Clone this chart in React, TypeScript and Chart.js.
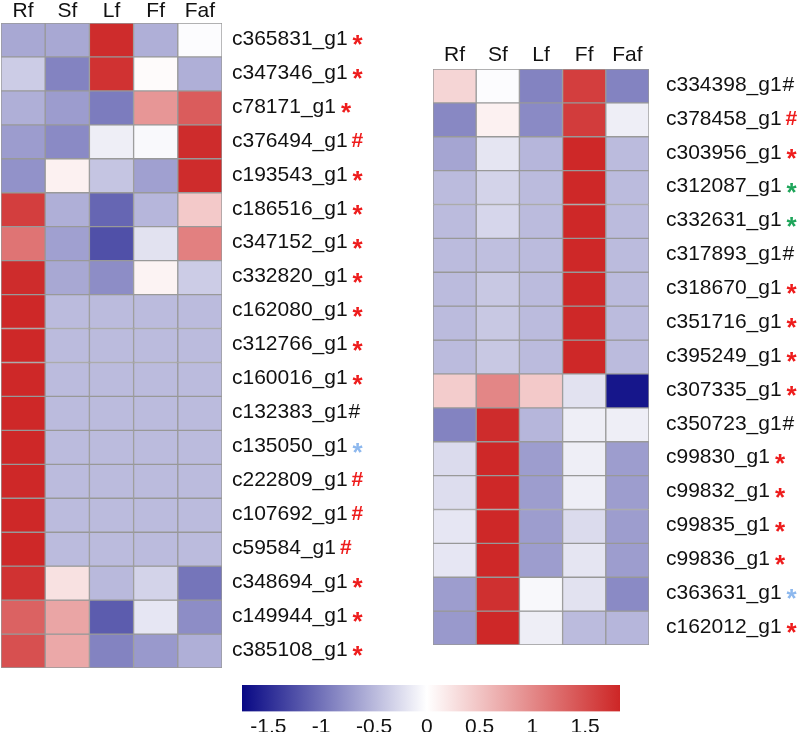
import React, { useEffect, useRef } from 'react';
import { Chart, registerables } from 'chart.js';
Chart.register(...registerables);

const columns = ['Rf', 'Sf', 'Lf', 'Ff', 'Faf'];

const leftGenes = [
  'c365831_g1', 'c347346_g1', 'c78171_g1', 'c376494_g1', 'c193543_g1', 'c186516_g1',
  'c347152_g1', 'c332820_g1', 'c162080_g1', 'c312766_g1', 'c160016_g1', 'c132383_g1',
  'c135050_g1', 'c222809_g1', 'c107692_g1', 'c59584_g1', 'c348694_g1', 'c149944_g1', 'c385108_g1',
];
// marker symbol + colour key (r red, k black, g green, b light blue)
const leftMarks = [
  '*r', '*r', '*r', '#r', '*r', '*r', '*r', '*r', '*r', '*r', '*r', '#k',
  '*b', '#r', '#r', '#r', '*r', '*r', '*r',
];
const leftValues = [
  [-0.6, -0.6, 1.75, -0.55, -0.02],
  [-0.35, -0.85, 1.7, 0.03, -0.55],
  [-0.55, -0.68, -0.9, 0.87, 1.35],
  [-0.68, -0.8, -0.12, -0.04, 1.75],
  [-0.75, 0.12, -0.4, -0.65, 1.75],
  [1.6, -0.55, -1.05, -0.5, 0.45],
  [1.15, -0.65, -1.2, -0.2, 1.05],
  [1.75, -0.6, -0.78, 0.1, -0.35],
  [1.78, -0.47, -0.47, -0.47, -0.47],
  [1.78, -0.47, -0.47, -0.47, -0.47],
  [1.78, -0.47, -0.47, -0.47, -0.47],
  [1.78, -0.47, -0.47, -0.47, -0.47],
  [1.78, -0.47, -0.47, -0.47, -0.47],
  [1.78, -0.47, -0.47, -0.47, -0.47],
  [1.78, -0.47, -0.47, -0.47, -0.47],
  [1.78, -0.47, -0.47, -0.47, -0.47],
  [1.7, 0.25, -0.48, -0.3, -0.95],
  [1.3, 0.75, -1.12, -0.17, -0.78],
  [1.45, 0.72, -0.85, -0.7, -0.55],
];

const rightGenes = [
  'c334398_g1', 'c378458_g1', 'c303956_g1', 'c312087_g1', 'c332631_g1', 'c317893_g1',
  'c318670_g1', 'c351716_g1', 'c395249_g1', 'c307335_g1', 'c350723_g1', 'c99830_g1',
  'c99832_g1', 'c99835_g1', 'c99836_g1', 'c363631_g1', 'c162012_g1',
];
const rightMarks = [
  '#k', '#r', '*r', '*g', '*g', '#k', '*r', '*r', '*r', '*r', '#k', '*r',
  '*r', '*r', '*r', '*b', '*r',
];
const rightValues = [
  [0.35, -0.02, -0.85, 1.6, -0.85],
  [-0.82, 0.12, -0.8, 1.62, -0.12],
  [-0.62, -0.18, -0.5, 1.78, -0.47],
  [-0.47, -0.3, -0.47, 1.78, -0.47],
  [-0.47, -0.28, -0.47, 1.78, -0.47],
  [-0.47, -0.44, -0.47, 1.78, -0.47],
  [-0.47, -0.38, -0.47, 1.78, -0.47],
  [-0.47, -0.38, -0.47, 1.78, -0.47],
  [-0.47, -0.38, -0.47, 1.78, -0.47],
  [0.42, 1.0, 0.45, -0.2, -1.6],
  [-0.85, 1.75, -0.5, -0.12, -0.12],
  [-0.25, 1.78, -0.67, -0.12, -0.67],
  [-0.23, 1.78, -0.67, -0.12, -0.67],
  [-0.17, 1.78, -0.67, -0.25, -0.67],
  [-0.17, 1.78, -0.67, -0.18, -0.67],
  [-0.67, 1.72, -0.05, -0.2, -0.8],
  [-0.7, 1.78, -0.12, -0.47, -0.5],
];

const colorTicks = [-1.5, -1, -0.5, 0, 0.5, 1, 1.5];
const scaleMin = -1.75;
const scaleMax = 1.83;

const FONT = '"Liberation Sans", Arial, sans-serif';
const NAVY = [0, 0, 128];
const WHITE = [255, 255, 255];
const RED = [205, 38, 38];
const markColors: Record<string, string> = { r: '#ee1c1c', k: '#111111', g: '#1ea55a', b: '#8db8ee' };

function mix(a: number[], b: number[], t: number) {
  const c = a.map((v, i) => Math.round(v + (b[i] - v) * t));
  return `rgb(${c[0]},${c[1]},${c[2]})`;
}
function valueColor(v: number) {
  if (v <= 0) {
    const t = Math.max(0, Math.min(1, (v - scaleMin) / (0 - scaleMin)));
    return mix(NAVY, WHITE, t);
  }
  const s = Math.max(0, Math.min(1, v / 1.8));
  return mix(WHITE, RED, s);
}

type HeatProps = {
  genes: string[];
  marks: string[];
  values: number[][];
  left: number;
  top: number;
  width: number;
  height: number;
  padding: { left: number; right: number; top: number; bottom: number };
  headerBaseline: number;
  labelGap: number;
};

function Heatmap(p: HeatProps) {
  const ref = useRef<HTMLCanvasElement>(null);
  useEffect(() => {
    const canvas = ref.current!;
    const n = p.genes.length;
    const datasets = p.values.map((row, i) => ({
      label: p.genes[i],
      data: row.map(() => 1),
      backgroundColor: row.map(valueColor),
      borderColor: '#999999',
      borderWidth: 1,
      borderSkipped: false as const,
      barPercentage: 1,
      categoryPercentage: 1,
    }));
    const textPlugin = {
      id: 'heatText',
      afterDraw(chart: any) {
        const ctx = chart.ctx as CanvasRenderingContext2D;
        const xs = chart.scales.x;
        const ys = chart.scales.y;
        ctx.save();
        ctx.fillStyle = '#111';
        ctx.font = `21px ${FONT}`;
        ctx.textAlign = 'center';
        ctx.textBaseline = 'alphabetic';
        columns.forEach((c, i) => ctx.fillText(c, xs.getPixelForValue(i), p.headerBaseline));
        ctx.textAlign = 'left';
        ctx.textBaseline = 'middle';
        p.genes.forEach((g, i) => {
          const y = ys.getPixelForValue(i + 0.5) - 1;
          const x = chart.chartArea.right + p.labelGap;
          ctx.font = `21px ${FONT}`;
          ctx.fillStyle = '#111';
          ctx.fillText(g, x, y);
          const w = ctx.measureText(g).width;
          const m = p.marks[i];
          const sym = m[0];
          ctx.fillStyle = markColors[m[1]];
          if (sym === '*') {
            ctx.font = `bold 26px ${FONT}`;
            ctx.fillText('*', x + w + 5, y + 7);
          } else {
            ctx.font = `${m[1] === 'k' ? '' : 'bold '}21px ${FONT}`;
            ctx.fillText('#', x + w + (m[1] === 'k' ? 1 : 4), y);
          }
        });
        ctx.restore();
      },
    };
    const chart = new Chart(canvas, {
      type: 'bar',
      data: { labels: columns, datasets },
      options: {
        responsive: false,
        animation: false,
        layout: { padding: p.padding },
        plugins: { legend: { display: false }, tooltip: { enabled: false } },
        scales: {
          x: { display: false, stacked: true },
          y: { display: false, stacked: true, min: 0, max: n, reverse: true },
        },
      },
      plugins: [textPlugin],
    });
    return () => chart.destroy();
  }, []);
  return (
    <canvas
      ref={ref}
      width={p.width}
      height={p.height}
      style={{ position: 'absolute', left: p.left, top: p.top, width: p.width, height: p.height }}
    />
  );
}

function ColorBar() {
  const ref = useRef<HTMLCanvasElement>(null);
  useEffect(() => {
    const canvas = ref.current!;
    const chart = new Chart(canvas, {
      type: 'bar',
      data: {
        labels: [''],
        datasets: [
          {
            data: [[scaleMin, scaleMax]] as any,
            backgroundColor: (ctx: any) => {
              const area = ctx.chart.chartArea;
              if (!area) return '#fff';
              const g = ctx.chart.ctx.createLinearGradient(area.left, 0, area.right, 0);
              const mid = (0 - scaleMin) / (scaleMax - scaleMin);
              g.addColorStop(0, mix(NAVY, WHITE, 0.03));
              g.addColorStop(mid, '#ffffff');
              g.addColorStop(1, mix(WHITE, RED, 1));
              return g;
            },
            borderWidth: 0,
            barPercentage: 1,
            categoryPercentage: 1,
          },
        ],
      },
      options: {
        indexAxis: 'y',
        responsive: false,
        animation: false,
        layout: { padding: { left: 42, right: 40, top: 10, bottom: 0 } },
        plugins: { legend: { display: false }, tooltip: { enabled: false } },
        scales: {
          x: {
            type: 'linear',
            min: scaleMin,
            max: scaleMax,
            grid: { display: false, drawTicks: false },
            border: { display: false },
            ticks: {
              color: '#111',
              font: { family: FONT, size: 21 },
              padding: 3,
              callback: (v: any) => String(Number(v)),
            },
            afterBuildTicks: (axis: any) => {
              axis.ticks = colorTicks.map((v) => ({ value: v }));
            },
          },
          y: { display: false },
        },
      },
    });
    return () => chart.destroy();
  }, []);
  return (
    <canvas
      ref={ref}
      width={460}
      height={63}
      style={{ position: 'absolute', left: 200, top: 675, width: 460, height: 63 }}
    />
  );
}

export default function App() {
  return (
    <div style={{ position: 'absolute', left: 0, top: 0, width: 797, height: 732, background: '#fff', overflow: 'hidden' }}>
      <Heatmap
        genes={leftGenes}
        marks={leftMarks}
        values={leftValues}
        left={0}
        top={0}
        width={400}
        height={672}
        padding={{ left: 1, right: 178, top: 23, bottom: 4 }}
        headerBaseline={17}
        labelGap={10}
      />
      <Heatmap
        genes={rightGenes}
        marks={rightMarks}
        values={rightValues}
        left={400}
        top={30}
        width={397}
        height={630}
        padding={{ left: 33, right: 148, top: 39, bottom: 15 }}
        headerBaseline={31}
        labelGap={17}
      />
      <ColorBar />
    </div>
  );
}
